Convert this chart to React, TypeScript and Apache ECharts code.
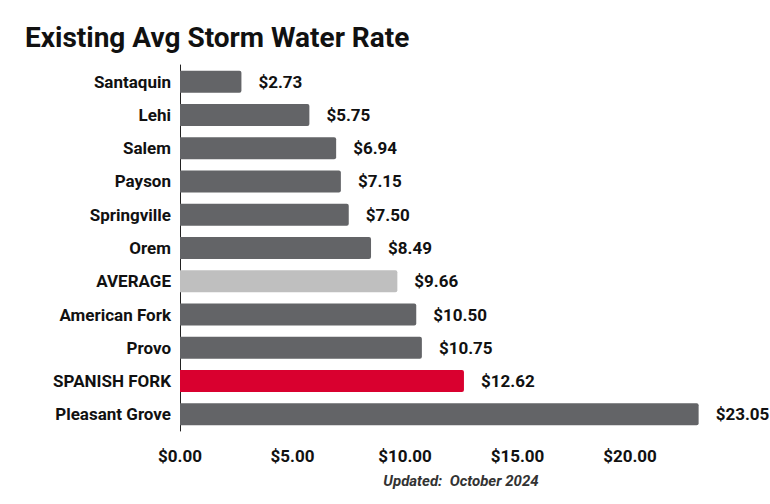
import React, { useEffect, useRef } from "react";
import * as echarts from "echarts";

const categories = ["Santaquin", "Lehi", "Salem", "Payson", "Springville", "Orem", "AVERAGE", "American Fork", "Provo", "SPANISH FORK", "Pleasant Grove"];
const values = [2.73, 5.75, 6.94, 7.15, 7.5, 8.49, 9.66, 10.5, 10.75, 12.62, 23.05];
const barColors = ["#636467", "#636467", "#636467", "#636467", "#636467", "#636467", "#bfbfbf", "#636467", "#636467", "#d9002f", "#636467"];
const titleText = "Existing Avg Storm Water Rate";
const noteText = "Updated:  October 2024";

export default function App() {
  const ref = useRef<HTMLDivElement>(null);
  useEffect(() => {
    const chart = echarts.init(ref.current!, null, { renderer: "svg" });
    chart.setOption({
      animation: false,
      textStyle: { fontFamily: "Roboto" },
      title: {
        text: titleText,
        left: 20,
        top: 18,
        textStyle: { fontFamily: "Roboto", fontWeight: "bold", fontSize: 28, color: "#111" },
      },
      graphic: [
        {
          type: "text",
          x: 461,
          y: 481,
          style: {
            text: noteText,
            fontFamily: "Roboto",
            fontStyle: "italic",
            fontWeight: "bold",
            fontSize: 15,
            fill: "#333",
            align: "center",
            verticalAlign: "middle",
          },
        },
      ],
      grid: { left: 180, right: 27.5, top: 65, height: 366, containLabel: false },
      xAxis: {
        type: "value",
        min: 0,
        max: 25,
        interval: 5,
        splitLine: { show: false },
        axisLine: { show: false },
        axisTick: { show: false },
        axisLabel: {
          showMaxLabel: false,
          margin: 16,
          fontFamily: "Roboto",
          fontWeight: "bold",
          fontSize: 17,
          color: "#111",
          formatter: (v: number) => "$" + v.toFixed(2),
        },
      },
      yAxis: {
        type: "category",
        data: categories,
        inverse: true,
        axisLine: { show: true, lineStyle: { color: "#222", width: 1 } },
        axisTick: { show: false },
        axisLabel: {
          margin: 9,
          fontFamily: "Roboto",
          fontWeight: "bold",
          fontSize: 17,
          color: "#111",
        },
      },
      series: [
        {
          type: "bar",
          barWidth: 22,
          data: values.map((v, i) => ({ value: v, itemStyle: { color: barColors[i], borderRadius: [0, 2, 2, 0] } })),
          label: {
            show: true,
            position: "right",
            distance: 17,
            fontFamily: "Roboto",
            fontWeight: "bold",
            fontSize: 17,
            color: "#111",
            formatter: (p: any) => "$" + Number(p.value).toFixed(2),
          },
        },
      ],
    });
    return () => chart.dispose();
  }, []);
  return <div ref={ref} style={{ width: 770, height: 504, position: "absolute", left: 0, top: 0 }} />;
}
